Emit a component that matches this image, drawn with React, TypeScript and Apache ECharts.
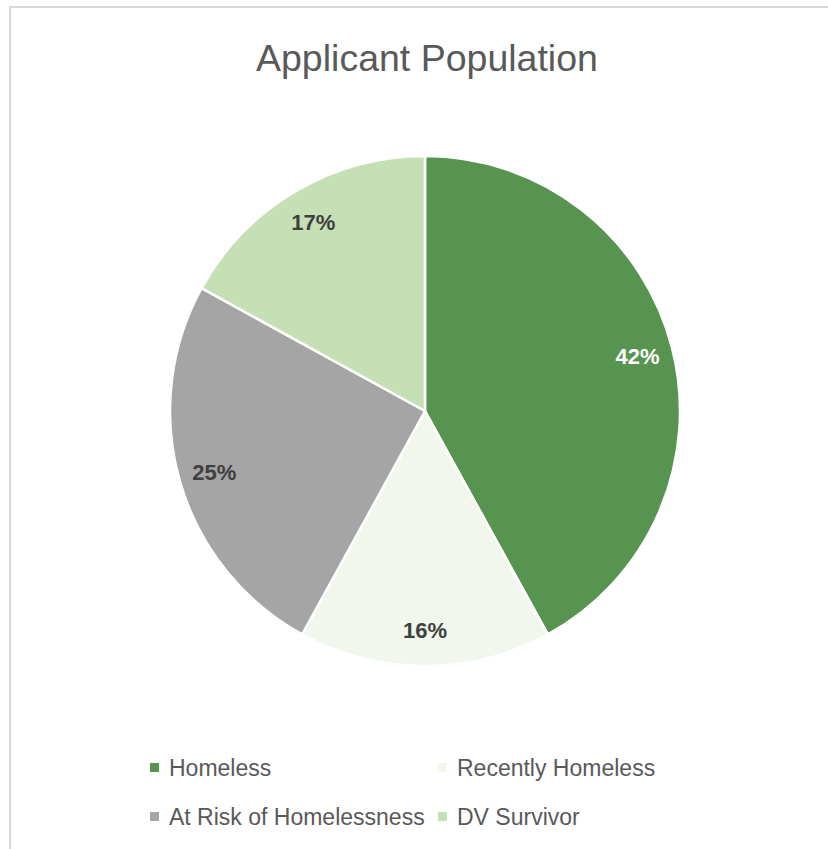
import React, { useEffect, useRef } from "react";
import * as echarts from "echarts";

const categories = ["Homeless", "Recently Homeless", "At Risk of Homelessness", "DV Survivor"];
const values = [42, 16, 25, 17];
const colors = ["#579450", "#F1F7ED", "#A5A5A5", "#C5E0B4"];
const labelColors = ["#FFFFFF", "#404040", "#404040", "#404040"];
const legendColumn1 = ["Homeless", "At Risk of Homelessness"];
const legendColumn2 = ["Recently Homeless", "DV Survivor"];
const titleText = "Applicant Population";

export default function App() {
  const ref = useRef<HTMLDivElement>(null);
  useEffect(() => {
    if (!ref.current) return;
    const chart = echarts.init(ref.current, undefined, { renderer: "svg" });
    const font = "'Liberation Sans', Arial, sans-serif";
    const data = categories.map((name, i) => ({
      name,
      value: values[i],
      itemStyle: { color: colors[i] },
    }));
    const labelData = categories.map((name, i) => ({
      name,
      value: values[i],
      label: { color: labelColors[i] },
    }));
    const legendBase = {
      orient: "vertical" as const,
      top: 751,
      itemWidth: 11,
      itemHeight: 11,
      itemGap: 26,
      icon: "rect",
      textStyle: { fontFamily: font, fontSize: 23, color: "#595959", padding: [0, 0, 0, 4] },
      selectedMode: false,
    };
    chart.setOption({
      animation: false,
      backgroundColor: "#FFFFFF",
      title: {
        text: titleText,
        left: 251,
        top: 34,
        textStyle: { fontFamily: font, fontSize: 37.5, fontWeight: "normal", color: "#595959" },
      },
      graphic: [
        {
          type: "rect",
          shape: { x: 10, y: 7, width: 1000, height: 1000 },
          style: { fill: "none", stroke: "#D9D9D9", lineWidth: 2 },
          silent: true,
          z: -10,
        },
      ],
      legend: [
        { ...legendBase, left: 143, data: legendColumn1 },
        { ...legendBase, left: 431, data: legendColumn2 },
      ],
      series: [
        {
          type: "pie",
          center: [425, 411],
          radius: [0, 255],
          startAngle: 90,
          clockwise: true,
          data,
          label: { show: false },
          labelLine: { show: false },
          itemStyle: { borderColor: "#FFFFFF", borderWidth: 2.5 },
          emphasis: { disabled: true },
        },
        {
          type: "pie",
          center: [425, 411],
          radius: [178, 255],
          startAngle: 90,
          clockwise: true,
          data: labelData,
          silent: true,
          itemStyle: { color: "transparent", borderWidth: 0 },
          label: {
            show: true,
            position: "inside",
            formatter: "{c}%",
            fontFamily: font,
            fontSize: 22,
            fontWeight: "bold",
          },
          labelLine: { show: false },
          emphasis: { disabled: true },
          legendHoverLink: false,
        },
      ],
    });
    return () => chart.dispose();
  }, []);
  return (
    <div
      ref={ref}
      style={{ position: "fixed", left: 0, top: 0, width: 828, height: 849 }}
    />
  );
}
